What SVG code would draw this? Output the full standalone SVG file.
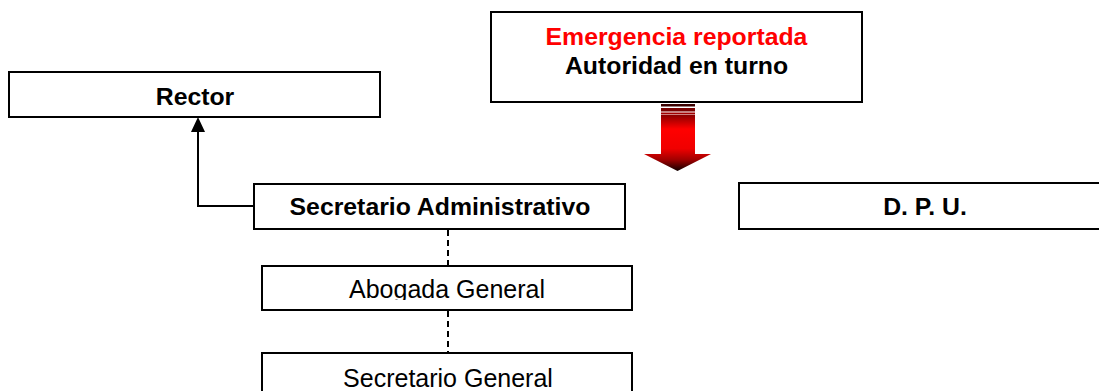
<svg xmlns="http://www.w3.org/2000/svg" width="1099" height="391" viewBox="0 0 1099 391">
  <defs>
    <style>
      .box { fill: #ffffff; stroke: #000000; stroke-width: 2; }
      .b { font-family: "Liberation Sans", Arial, sans-serif; font-weight: bold; font-size: 24.8px; fill: #000000; text-anchor: middle; }
      .r { font-family: "Liberation Sans", Arial, sans-serif; font-size: 25px; fill: #000000; text-anchor: middle; }
      .red { fill: #ff0000; }
      .conn { fill: none; stroke: #000000; stroke-width: 2; }
      .dash { fill: none; stroke: #000000; stroke-width: 2; stroke-dasharray: 6 4; }
    </style>
    <marker id="arrow" markerWidth="14" markerHeight="14" refX="7" refY="0" orient="auto" markerUnits="userSpaceOnUse" viewBox="0 0 14 14">
      <path d="M7 0 L14 14 L0 14 Z" fill="#000000"/>
    </marker>
    <linearGradient id="redV" x1="0" y1="0" x2="0" y2="1">
      <stop offset="0" stop-color="#8a0000"/>
      <stop offset="0.25" stop-color="#ff0000"/>
      <stop offset="0.6" stop-color="#f00000"/>
      <stop offset="0.8" stop-color="#a00000"/>
      <stop offset="1" stop-color="#100000"/>
    </linearGradient>
    <clipPath id="clipAbogada">
      <rect x="262" y="266" width="370" height="34"/>
    </clipPath>
  </defs>

  <g id="connectors">
    <path class="conn" d="M254 206 L198 206 L198 131"/>
    <path d="M198 117 L205 132 L191 132 Z" fill="#000000"/>
    <line class="dash" x1="448" y1="230" x2="448" y2="266"/>
    <line class="dash" x1="448" y1="311" x2="448" y2="353"/>
    <g id="red-arrow">
      <rect x="661" y="104" width="34" height="2.5" fill="#3a0000"/>
      <rect x="661" y="108" width="34" height="3.5" fill="#7a0000"/>
      <rect x="661" y="112.5" width="34" height="2" fill="#a00000"/>
      <path d="M661 115 L695 115 L695 154 L711 154 L677.5 171 L644 154 L661 154 Z" fill="url(#redV)"/>
    </g>
  </g>

  <g id="node-emergencia">
    <rect class="box" x="491" y="12" width="371" height="90"/>
    <text class="b red" x="676.5" y="45">Emergencia reportada</text>
    <text class="b" x="676.5" y="74">Autoridad en turno</text>
  </g>

  <g id="node-rector">
    <rect class="box" x="9" y="72" width="371" height="45"/>
    <text class="b" x="195" y="105">Rector</text>
  </g>

  <g id="node-secretario-administrativo">
    <rect class="box" x="254" y="184" width="371" height="45"/>
    <text class="b" x="440" y="215">Secretario Administrativo</text>
  </g>

  <g id="node-dpu">
    <rect class="box" x="739" y="183" width="372" height="46"/>
    <text class="b" x="925" y="215">D. P. U.</text>
  </g>

  <g id="node-abogada-general">
    <rect class="box" x="262" y="266" width="370" height="44"/>
    <text class="r" x="447" y="298" clip-path="url(#clipAbogada)">Abogada General</text>
  </g>

  <g id="node-secretario-general">
    <rect class="box" x="262" y="353" width="370" height="50"/>
    <text class="r" x="448" y="387">Secretario General</text>
  </g>
</svg>
